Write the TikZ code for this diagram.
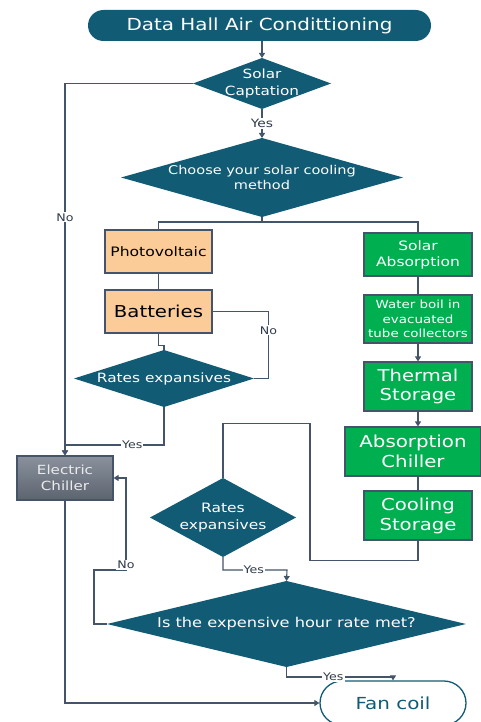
\documentclass[tikz,border=0pt]{standalone}
\usepackage{fontspec}
\setmainfont[FakeStretch=1.2]{DejaVu Sans}
\usetikzlibrary{shapes.geometric,arrows.meta}
\definecolor{tealdk}{HTML}{125B75}
\definecolor{edge}{HTML}{44546A}
\definecolor{pvorange}{HTML}{FBCB98}
\definecolor{sgreen}{HTML}{00B050}
\definecolor{chilltop}{HTML}{8A919C}
\definecolor{chillbot}{HTML}{5C6470}
\newcommand{\fsz}[2]{\fontsize{#1}{#2}\selectfont}
\begin{document}
\begin{tikzpicture}[x=1pt,y=-1pt,
	line/.style={draw=edge,line width=1.1pt},
	arr/.style={line,-{Triangle[width=6pt,length=5pt]}},
	lbl/.style={fill=white,text=edge!70!black,inner sep=1pt,font=\fsz{10.5}{12}},
	dia/.style={diamond,fill=tealdk,inner sep=0pt,outer sep=0pt},
	dtext/.style={text=white,align=center},
	box/.style={draw=edge,line width=1.1pt,inner sep=0pt,align=center},
	pvbox/.style={box,fill=pvorange,text=black,minimum width=107pt,minimum height=43pt},
	gbox/.style={box,fill=sgreen,text=white,minimum width=108pt}]
		\useasboundingbox (0,0) rectangle (481,722);
		% top of the chart
		\node[fill=tealdk,rounded corners=15.5pt,minimum width=343pt,minimum height=31pt,text=white,font=\fsz{16.6}{20}] (title) at (259.5,25.5) {Data Hall Air Condittioning};
		\node[dia,minimum width=138pt,minimum height=51pt] (capt) at (262,83.5) {};
		\node[dtext,font=\fsz{12.7}{16.5}] (capttxt) at (capt) {Solar\\Captation};
		\node[dia,minimum width=282pt,minimum height=79pt] (choose) at (262,177.5) {};
		\node[dtext,font=\fsz{12.1}{15.3}] (choosetxt) at (choose) {Choose your solar cooling\\method};
		% photovoltaic branch
		\node[pvbox,font=\fsz{13}{15}] (pv) at (158.5,251.5) {Photovoltaic};
		\node[pvbox,font=\fsz{16.4}{19}] (bat) at (158.5,311.5) {Batteries};
		\node[dia,minimum width=180pt,minimum height=57pt] (rate1) at (164,378.5) {};
		\node[dtext,font=\fsz{12.8}{15}] (rate1txt) at (rate1) {Rates expansives};
		\node[box,top color=chilltop,bottom color=chillbot,text=white!88!edge,minimum width=96pt,minimum height=44pt,font=\fsz{12.6}{16.5}] (elec) at (65,478) {Electric\\Chiller};
		% solar absorption branch
		\node[gbox,minimum height=43pt,font=\fsz{12.9}{16}] (sabs) at (418,254.5) {Solar\\Absorption};
		\node[gbox,minimum height=48pt,font=\fsz{11.2}{14.8}] (water) at (418,319) {Water boil in\\evacuated\\tube collectors};
		\node[gbox,minimum height=49pt,font=\fsz{16.3}{19.3}] (therm) at (418,386.5) {Thermal\\Storage};
		\node[gbox,minimum width=136pt,minimum height=49pt,font=\fsz{16.5}{19.5}] (absch) at (413,451.5) {Absorption\\Chiller};
		\node[gbox,minimum height=49pt,font=\fsz{16.4}{20}] (cool) at (418,515.5) {Cooling\\Storage};
		\node[dia,minimum width=146pt,minimum height=79pt] (rate2) at (223,517.5) {};
		\node[dtext,font=\fsz{12.9}{17}] (rate2txt) at (rate2) {Rates\\expansives};
		\node[dia,minimum width=359pt,minimum height=86pt] (hour) at (286.5,624) {};
		\node[dtext,font=\fsz{13.5}{16}] (hourtxt) at (hour) {Is the expensive hour rate met?};
		\node[draw=tealdk,line width=1.3pt,fill=white,rounded corners=22pt,minimum width=146pt,minimum height=44pt,text=tealdk,font=\fsz{16.6}{20}] (fan) at (393,703) {Fan coil};
		\coordinate (j1) at (65,445);
		\coordinate (j2) at (287,570);
		\coordinate (j3) at (393,677);
		% connectors
		\draw[arr] (capt.north |- title.south) -- (capt.north);
		\draw[arr] (capt.south) -- node[lbl,font=\fsz{11.5}{13}]{Yes} (choose.north);
		\draw[arr] (capt.west) -| node[lbl,pos=.68]{No} (elec.north);
		\draw[line] (choose.south) -- ++(0,5) -| (pv.north);
		\draw[line] (choose.south) -- ++(0,5) -| (sabs.north);
		\draw[line] (pv) -- (bat);
		\draw[line] (bat.south) -- ++(0,12) -| (rate1.north);
		\draw[line] (bat.east) -- ++(56,0) |- node[lbl,pos=.14]{No} (rate1.east);
		\draw[arr] (rate1.south) |- node[lbl,pos=.66]{Yes} (j1) -- (elec.north);
		\draw[arr] (elec.south) |- (fan.west);
		\draw[line] (sabs) -- (water);
		\draw[arr] (water) -- (therm);
		\draw[arr] (therm) -- (therm |- absch.north);
		\draw[line] (therm |- absch.south) -- (cool);
		\draw[line] (cool.south) -- ++(0,20) -| ++(-108,-137) -| (rate2.north);
		\draw[arr] (rate2.south) |- node[lbl,pos=.74]{Yes} (j2) -- (hour.north);
		\draw[arr] (hour.west) -- ++(-13,0) -- ++(0,-54) -- ++(32,0) node[lbl,yshift=5pt]{No} |- (elec.east);
		\draw[arr] (hour.south) |- node[lbl,pos=.72]{Yes} (j3) -- (fan.north);
	    \end{tikzpicture}
\end{document}
